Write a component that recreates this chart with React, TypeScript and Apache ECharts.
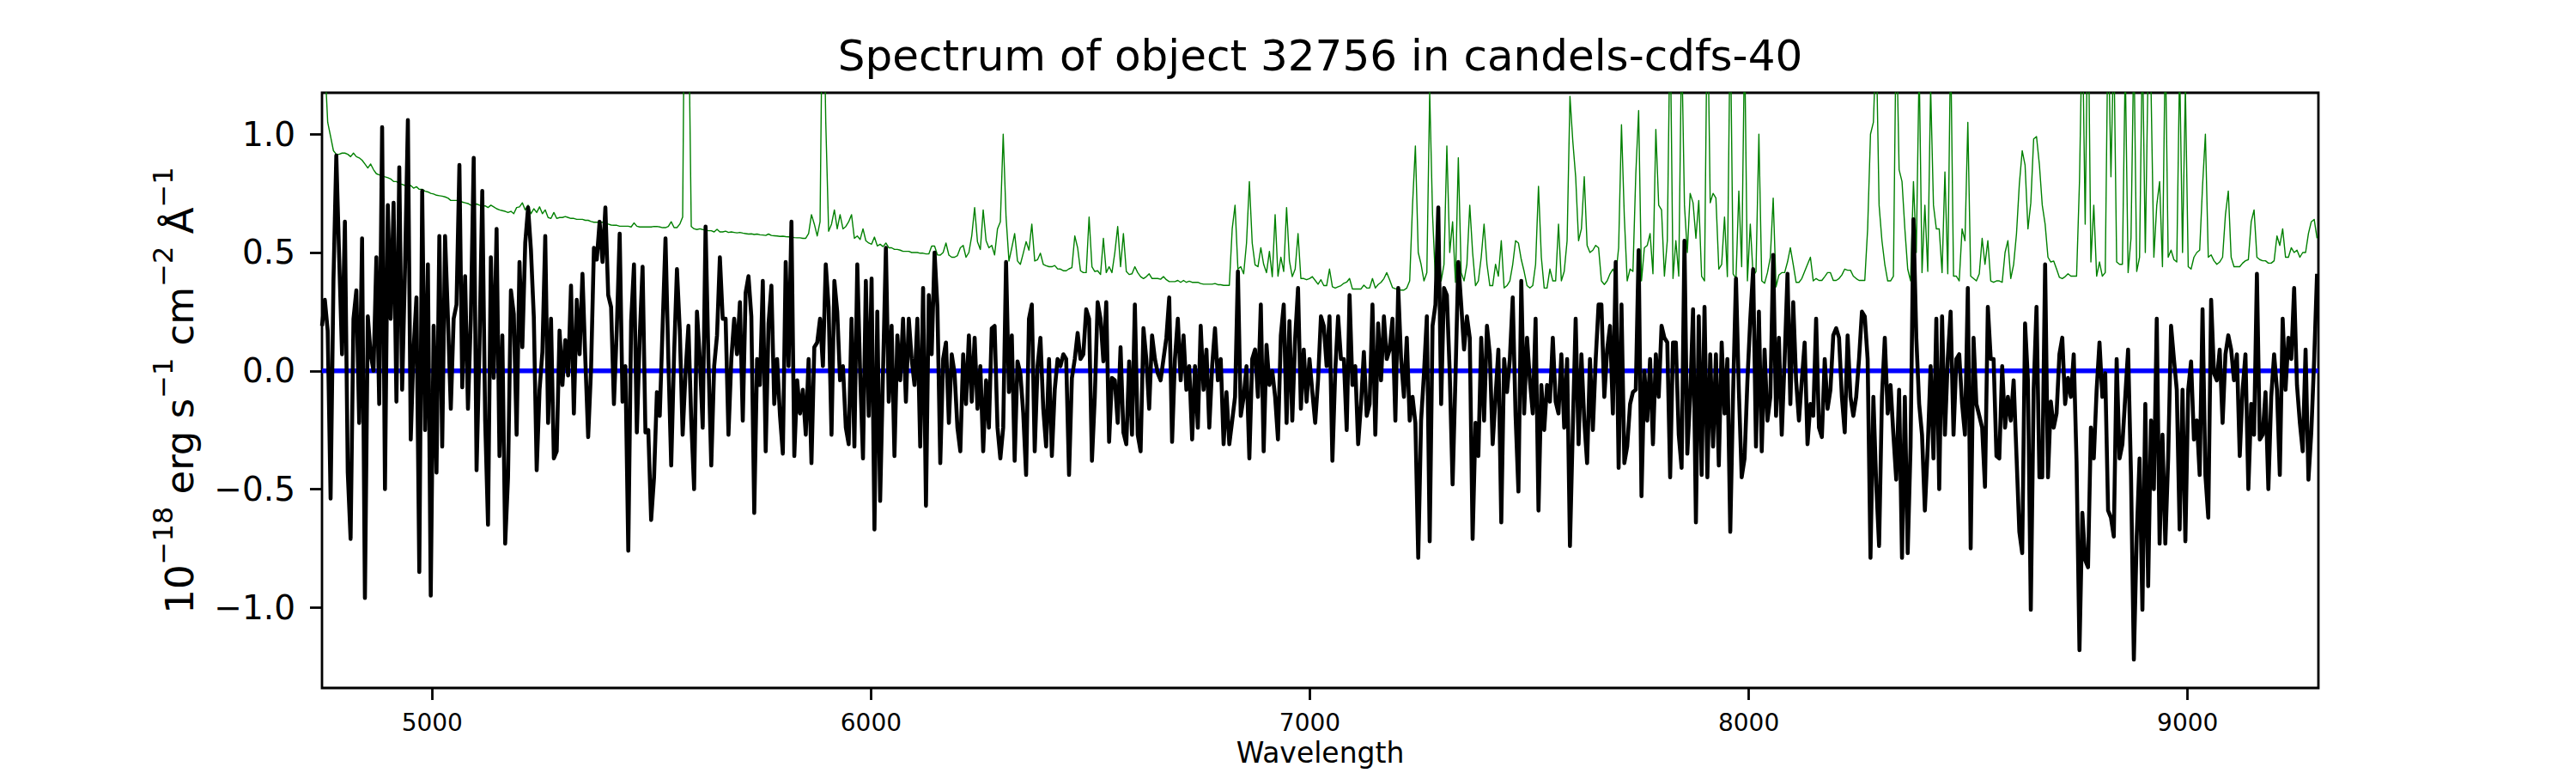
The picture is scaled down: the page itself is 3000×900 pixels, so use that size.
import React, { useEffect, useRef } from "react";
import * as echarts from "echarts";

const TITLE = "Spectrum of object 32756 in candels-cdfs-40";
const X_LABEL = "Wavelength";
const X_MIN = 4749;
const X_MAX = 9298;
const Y_MIN = -1.34;
const Y_MAX = 1.175;
const X_TICKS = [5000, 6000, 7000, 8000, 9000];
const Y_TICKS = [-1.0, -0.5, 0.0, 0.5, 1.0];
const ZERO_LEVEL = 0;

// wavelength of the first sample of each segment, and sample spacing (Angstrom)
const SEG_START = [4749.0, 5505.6, 6268.6, 7031.7, 7794.8, 8557.9];
const STEP = 6.522;

// object flux (black)
const fluxA = [
  0.19, 0.30, 0.17, -0.54, 0.38, 0.91, 0.48, 0.07, 0.63, -0.43,
  -0.71, 0.22, 0.34, -0.22, 0.56, -0.96, 0.23, 0.07, 0.00, 0.48,
  -0.14, 1.03, -0.50, 0.70, 0.22, 0.71, -0.13, 0.86, -0.08, 0.43,
  1.06, -0.29, 0.09, 0.31, -0.85, 0.76, -0.25, 0.45, -0.95, 0.19,
  -0.43, 0.57, -0.32, 0.57, 0.22, -0.16, 0.22, 0.28, 0.87, -0.07,
  0.40, -0.16, 0.22, 0.90, -0.42, 0.09, 0.76, -0.21, -0.65, 0.48,
  -0.03, 0.60, -0.36, 0.15, -0.73, -0.45, 0.34, 0.24, -0.27, 0.46,
  0.10, 0.54, 0.69, 0.51, 0.23, -0.42, -0.08, 0.08, 0.57, -0.22,
  0.22, -0.37, -0.34, 0.17, -0.06, 0.13, -0.02, 0.36, -0.18, 0.30,
  0.07, 0.41, 0.05, -0.28, 0.01, 0.52, 0.47, 0.63, 0.46, 0.69,
  0.32, 0.27, -0.14, 0.18, 0.58, -0.13, 0.02, -0.76, 0.21, 0.45,
  -0.26, 0.14, 0.44, -0.26, -0.25, -0.63,
];
const fluxB = [
  -0.45, -0.09, -0.19, 0.19, 0.56, 0.05, -0.40, 0.07, 0.43, 0.17,
  -0.27, -0.01, 0.19, -0.21, -0.50, 0.25, 0.05, -0.24, 0.61, 0.05,
  -0.40, 0.02, 0.15, 0.48, 0.22, 0.22, -0.27, 0.05, 0.22, 0.07,
  0.29, -0.21, 0.33, 0.40, 0.23, -0.60, 0.05, -0.06, 0.38, -0.34,
  0.20, 0.36, -0.14, 0.05, -0.19, -0.35, 0.46, 0.02, 0.63, -0.36,
  -0.04, -0.18, -0.08, -0.27, 0.05, -0.39, 0.10, 0.12, 0.22, 0.02,
  0.45, 0.27, -0.27, 0.38, 0.25, -0.04, 0.02, -0.24, -0.31, 0.22,
  -0.32, 0.45, -0.01, -0.37, 0.38, -0.19, 0.39, -0.67, 0.25, -0.55,
  0.00, 0.52, -0.13, 0.19, -0.36, 0.15, -0.04, 0.22, -0.13, 0.22,
  0.05, -0.06, 0.22, -0.32, 0.35, -0.57, 0.32, 0.07, 0.50, 0.27,
  -0.39, 0.05, 0.12, -0.22, 0.07, -0.01, -0.24, -0.34, 0.07, -0.14,
  0.15, -0.13, 0.14, -0.16, 0.02, -0.34, -0.04,
];
const fluxC = [
  -0.24, 0.18, 0.19, -0.24, -0.37, -0.24, 0.46, -0.09, 0.15, -0.38,
  0.04, -0.01, -0.18, -0.44, 0.22, 0.28, -0.34, 0.02, 0.14, -0.16,
  -0.32, 0.05, -0.36, -0.08, 0.05, 0.02, 0.07, 0.05, -0.44, -0.03,
  0.05, 0.16, 0.05, 0.07, 0.26, 0.22, -0.38, -0.11, 0.29, 0.22,
  0.04, 0.29, -0.30, -0.03, -0.04, -0.22, 0.10, -0.26, -0.31, 0.04,
  -0.27, 0.28, -0.27, -0.34, 0.18, 0.05, -0.16, 0.15, 0.05, -0.01,
  -0.04, 0.05, 0.14, 0.31, -0.30, 0.05, 0.22, -0.04, 0.15, -0.08,
  0.02, -0.29, 0.02, -0.24, 0.19, -0.08, 0.09, -0.24, 0.02, 0.18,
  -0.04, 0.05, -0.31, -0.09, -0.31, -0.21, -0.11, 0.42, -0.19, -0.11,
  0.02, -0.37, 0.05, 0.09, -0.11, 0.28, -0.34, 0.11, -0.06, 0.00,
  -0.11, -0.29, 0.15, 0.28, -0.22, 0.21, -0.21, 0.14, 0.35, -0.16,
  0.09, -0.13, 0.05, -0.09, -0.22, -0.04, 0.23,
];
const fluxD = [
  0.19, 0.02, 0.23, -0.38, 0.00, 0.23, 0.05, 0.05, -0.25, 0.32,
  -0.06, 0.02, -0.31, -0.14, 0.08, -0.19, -0.14, 0.28, -0.27, 0.20,
  -0.04, 0.23, 0.05, 0.09, 0.22, -0.21, 0.35, 0.05, -0.11, 0.14,
  -0.21, -0.11, -0.22, -0.79, -0.21, -0.01, 0.23, -0.72, 0.19, 0.28,
  0.69, -0.14, 0.35, 0.32, -0.01, -0.48, -0.03, 0.46, 0.28, 0.09,
  0.23, 0.14, -0.71, -0.22, -0.36, 0.14, -0.21, 0.19, 0.07, -0.31,
  -0.11, 0.09, -0.64, 0.05, -0.09, 0.05, 0.31, -0.19, -0.51, 0.38,
  -0.18, 0.14, -0.04, -0.18, 0.22, -0.59, -0.06, -0.25, -0.06, -0.13,
  0.14, -0.13, -0.18, 0.07, -0.24, 0.05, -0.74, -0.24, 0.22, -0.31,
  0.07, -0.21, -0.39, 0.05, -0.25, 0.05, 0.28, 0.28, -0.11, 0.09,
  0.19, -0.18, 0.46, -0.41, 0.28, -0.39, -0.32, -0.14, -0.09, -0.08,
  0.51, -0.53, 0.00, -0.21, 0.05, -0.31, 0.07,
];
const fluxE = [
  -0.11, 0.19, 0.14, 0.12, -0.45, 0.12, 0.12, -0.27, -0.41, 0.55,
  -0.35, -0.11, 0.26, -0.64, 0.23, -0.44, 0.27, -0.45, 0.07, -0.32,
  0.07, -0.40, 0.12, -0.18, 0.05, -0.68, -0.09, 0.39, -0.08, -0.45,
  -0.37, -0.04, 0.22, 0.43, -0.32, 0.25, -0.34, 0.09, -0.21, -0.11,
  0.49, -0.19, 0.14, -0.27, 0.05, 0.41, -0.14, 0.29, -0.04, -0.21,
  -0.04, 0.12, -0.31, -0.14, -0.19, 0.22, -0.24, -0.28, 0.05, -0.16,
  -0.08, 0.15, 0.18, 0.14, -0.11, -0.26, 0.15, -0.11, -0.19, -0.11,
  0.05, 0.25, 0.23, 0.05, -0.79, -0.11, -0.48, -0.74, -0.11, 0.14,
  -0.18, -0.06, -0.27, -0.46, -0.08, -0.79, -0.11, -0.77, -0.32, 0.64,
  0.14, -0.14, -0.27, -0.59, -0.32, 0.02, -0.37, 0.22, -0.50, 0.23,
  -0.27, 0.05, 0.25, -0.27, 0.05, 0.07, -0.14, -0.27, 0.35, -0.75,
  0.14, -0.14, -0.19, -0.24, -0.49, 0.27, 0.05,
];
const fluxF = [
  0.05, -0.36, -0.37, 0.02, -0.24, -0.11, -0.21, -0.04, -0.36, -0.68,
  -0.77, 0.20, -0.04, -1.01, -0.08, 0.27, -0.45, -0.45, 0.45, -0.45,
  -0.13, -0.24, -0.18, 0.07, 0.14, -0.14, -0.03, -0.11, 0.07, -0.39,
  -1.18, -0.60, -0.80, -0.83, -0.24, -0.37, -0.08, 0.12, -0.11, -0.01,
  -0.59, -0.62, -0.70, 0.05, -0.37, -0.31, -0.11, 0.09, -0.44, -1.22,
  -0.70, -0.37, -1.01, -0.14, -0.91, -0.21, -0.50, 0.22, -0.73, -0.27,
  -0.73, -0.37, 0.19, 0.05, -0.08, -0.67, -0.08, -0.72, -0.08, 0.04,
  -0.29, -0.21, -0.44, 0.26, -0.44, -0.62, 0.30, -0.01, -0.04, 0.09,
  -0.22, 0.07, 0.15, 0.09, -0.04, 0.07, -0.36, -0.08, 0.07, -0.50,
  -0.14, -0.27, 0.41, -0.29, -0.27, -0.09, -0.50, -0.11, 0.07, -0.08,
  -0.44, 0.22, -0.08, 0.14, 0.05, 0.35, -0.06, -0.22, -0.34, 0.09,
  -0.46, -0.26, 0.05, 0.41,
];

// noise / sky spectrum (green)
const skyA = [
  1.60, 1.30, 1.05, 0.99, 0.93, 0.915, 0.915, 0.92, 0.92, 0.915,
  0.905, 0.92, 0.905, 0.90, 0.89, 0.874, 0.857, 0.874, 0.85, 0.833,
  0.828, 0.825, 0.82, 0.816, 0.811, 0.80, 0.80, 0.79, 0.788, 0.783,
  0.78, 0.783, 0.772, 0.778, 0.767, 0.767, 0.759, 0.756, 0.75, 0.747,
  0.742, 0.74, 0.738, 0.735, 0.73, 0.72, 0.72, 0.72, 0.72, 0.713,
  0.71, 0.707, 0.70, 0.70, 0.705, 0.70, 0.697, 0.697, 0.69, 0.70,
  0.693, 0.685, 0.68, 0.677, 0.674, 0.669, 0.674, 0.664, 0.69, 0.693,
  0.71, 0.68, 0.70, 0.664, 0.685, 0.669, 0.693, 0.664, 0.68, 0.648,
  0.644, 0.669, 0.644, 0.648, 0.648, 0.652, 0.648, 0.644, 0.644, 0.64,
  0.64, 0.64, 0.636, 0.636, 0.631, 0.628, 0.628, 0.628, 0.628, 0.625,
  0.62, 0.616, 0.615, 0.615, 0.611, 0.611, 0.611, 0.611, 0.608, 0.625,
  0.611, 0.608, 0.608, 0.608, 0.608, 0.608,
];
const skyB = [
  0.61, 0.61, 0.608, 0.605, 0.605, 0.61, 0.63, 0.605, 0.605, 0.62,
  0.65, 2.2, 1.6, 0.61, 0.60, 0.597, 0.60, 0.597, 0.595, 0.592,
  0.592, 0.587, 0.598, 0.587, 0.587, 0.59, 0.585, 0.587, 0.585, 0.583,
  0.585, 0.582, 0.58, 0.578, 0.579, 0.576, 0.578, 0.575, 0.574, 0.572,
  0.578, 0.572, 0.571, 0.570, 0.568, 0.569, 0.567, 0.566, 0.565, 0.563,
  0.562, 0.562, 0.560, 0.560, 0.58, 0.66, 0.62, 0.57, 0.63, 1.8,
  1.05, 0.59, 0.62, 0.68, 0.60, 0.66, 0.60, 0.61, 0.63, 0.66,
  0.56, 0.57, 0.555, 0.60, 0.55, 0.54, 0.535, 0.565, 0.528, 0.535,
  0.525, 0.54, 0.52, 0.52, 0.513, 0.513, 0.51, 0.505, 0.505, 0.505,
  0.50, 0.50, 0.50, 0.497, 0.497, 0.494, 0.494, 0.527, 0.527, 0.49,
  0.489, 0.50, 0.54, 0.489, 0.48, 0.48, 0.487, 0.52, 0.53, 0.48,
  0.50, 0.57, 0.69, 0.545, 0.513, 0.68, 0.55,
];
const skyC = [
  0.52, 0.53, 0.49, 0.60, 0.63, 1.00, 0.65, 0.464, 0.52, 0.58,
  0.464, 0.45, 0.497, 0.546, 0.51, 0.62, 0.464, 0.47, 0.497, 0.45,
  0.444, 0.44, 0.44, 0.445, 0.431, 0.43, 0.423, 0.423, 0.431, 0.436,
  0.57, 0.52, 0.423, 0.415, 0.415, 0.65, 0.44, 0.42, 0.423, 0.407,
  0.56, 0.415, 0.44, 0.415, 0.50, 0.61, 0.44, 0.58, 0.42, 0.407,
  0.41, 0.44, 0.415, 0.398, 0.39, 0.398, 0.41, 0.39, 0.39, 0.39,
  0.387, 0.398, 0.385, 0.377, 0.377, 0.377, 0.382, 0.374, 0.382, 0.374,
  0.379, 0.374, 0.374, 0.374, 0.369, 0.366, 0.366, 0.366, 0.366, 0.369,
  0.364, 0.364, 0.361, 0.361, 0.361, 0.60, 0.70, 0.43, 0.44, 0.41,
  0.54, 0.80, 0.54, 0.448, 0.44, 0.52, 0.45, 0.415, 0.505, 0.398,
  0.66, 0.40, 0.48, 0.42, 0.69, 0.464, 0.398, 0.43, 0.58, 0.39,
  0.39, 0.385, 0.39, 0.398, 0.382, 0.366, 0.385,
];
const skyD = [
  0.36, 0.36, 0.43, 0.355, 0.35, 0.355, 0.36, 0.37, 0.375, 0.39,
  0.346, 0.346, 0.346, 0.346, 0.362, 0.35, 0.35, 0.39, 0.35, 0.365,
  0.374, 0.39, 0.415, 0.385, 0.352, 0.347, 0.345, 0.341, 0.341, 0.35,
  0.38, 0.70, 0.95, 0.50, 0.45, 0.38, 0.415, 1.18, 0.66, 0.38,
  0.58, 0.38, 0.45, 0.95, 0.50, 0.63, 0.374, 0.90, 0.415, 0.38,
  0.45, 0.70, 0.50, 0.36, 0.38, 0.48, 0.62, 0.45, 0.36, 0.36,
  0.45, 0.40, 0.55, 0.35, 0.36, 0.38, 0.45, 0.55, 0.54, 0.47,
  0.42, 0.36, 0.35, 0.36, 0.45, 0.78, 0.48, 0.35, 0.35, 0.43,
  0.38, 0.38, 0.62, 0.38, 0.42, 0.55, 1.16, 0.97, 0.82, 0.55,
  0.60, 0.82, 0.53, 0.50, 0.51, 0.53, 0.52, 0.38, 0.365, 0.38,
  0.41, 0.43, 0.40, 0.52, 1.04, 0.65, 0.38, 0.43, 0.42, 0.83,
  1.1, 0.38, 0.52, 0.53, 0.58, 0.41, 1.02,
];
const skyE = [
  0.70, 0.68, 0.40, 0.55, 1.5, 0.39, 0.55, 0.40, 1.4, 0.70,
  0.50, 0.75, 0.71, 0.56, 0.72, 0.40, 0.38, 1.6, 0.71, 0.75,
  0.73, 0.43, 0.45, 0.65, 0.398, 1.5, 0.41, 0.39, 0.76, 0.44,
  1.4, 0.38, 0.62, 0.40, 0.42, 1.0, 0.38, 0.37, 0.415, 0.48,
  0.73, 0.355, 0.405, 0.415, 0.415, 0.46, 0.52, 0.45, 0.374, 0.374,
  0.39, 0.42, 0.45, 0.48, 0.38, 0.39, 0.382, 0.382, 0.398, 0.415,
  0.415, 0.382, 0.382, 0.39, 0.405, 0.43, 0.425, 0.425, 0.40, 0.39,
  0.382, 0.382, 0.382, 0.60, 1.0, 1.05, 1.4, 0.70, 0.55, 0.45,
  0.38, 0.38, 0.40, 1.5, 0.85, 0.80, 0.60, 0.43, 0.38, 0.80,
  0.50, 1.3, 0.415, 0.70, 0.42, 1.2, 0.70, 0.60, 0.60, 0.415,
  0.84, 0.41, 1.4, 0.40, 0.40, 0.38, 0.60, 0.55, 1.05, 0.40,
  0.39, 0.38, 0.41, 0.56, 0.45, 0.55, 0.38,
];
const skyF = [
  0.374, 0.38, 0.38, 0.374, 0.50, 0.55, 0.39, 0.45, 0.58, 0.79,
  0.93, 0.87, 0.60, 0.71, 0.98, 0.99, 0.87, 0.70, 0.62, 0.48,
  0.46, 0.464, 0.43, 0.395, 0.39, 0.398, 0.41, 0.40, 0.40, 0.40,
  0.80, 1.5, 0.62, 1.6, 0.46, 0.70, 0.40, 0.46, 0.40, 0.415,
  1.5, 0.82, 1.4, 0.46, 0.45, 0.45, 1.3, 0.415, 0.56, 1.4,
  0.42, 0.48, 1.4, 0.50, 1.3, 1.2, 0.48, 0.70, 0.80, 0.44,
  1.4, 0.48, 0.51, 0.47, 0.46, 1.3, 0.50, 1.2, 0.44, 0.43,
  0.48, 0.50, 0.51, 0.78, 1.0, 0.48, 0.49, 0.465, 0.45, 0.46,
  0.48, 0.66, 0.76, 0.48, 0.44, 0.44, 0.44, 0.455, 0.465, 0.47,
  0.63, 0.68, 0.48, 0.47, 0.465, 0.465, 0.455, 0.455, 0.465, 0.57,
  0.53, 0.60, 0.48, 0.48, 0.52, 0.50, 0.51, 0.48, 0.50, 0.50,
  0.58, 0.63, 0.64, 0.56,
];

const FONT = "DejaVu Sans";

function buildSeries(segs: number[][]): [number, number][] {
  const out: [number, number][] = [];
  segs.forEach((seg, k) => {
    seg.forEach((v, i) => {
      out.push([Math.round((SEG_START[k] + i * STEP) * 10) / 10, v]);
    });
  });
  return out;
}

export default function App() {
  const ref = useRef<HTMLDivElement>(null);

  useEffect(() => {
    document.body.style.margin = "0";
    if (!ref.current) return;
    const chart = echarts.init(ref.current, null, { renderer: "svg" });

    const fluxData = buildSeries([fluxA, fluxB, fluxC, fluxD, fluxE, fluxF]);
    const skyData = buildSeries([skyA, skyB, skyC, skyD, skyE, skyF]);
    const zeroData = [
      [X_MIN, ZERO_LEVEL],
      [X_MAX, ZERO_LEVEL],
    ];

    const gridLeft = 375;
    const gridTop = 108;
    const gridWidth = 2325;
    const gridHeight = 693;

    chart.setOption({
      animation: false,
      backgroundColor: "#ffffff",
      textStyle: { fontFamily: FONT },
      grid: {
        left: gridLeft,
        top: gridTop,
        width: gridWidth,
        height: gridHeight,
        show: true,
        borderColor: "#000000",
        borderWidth: 2.8,
        backgroundColor: "transparent",
        containLabel: false,
      },
      graphic: [
        {
          type: "text",
          x: gridLeft + gridWidth / 2,
          y: 65,
          style: {
            text: TITLE,
            fontSize: 50,
            fontFamily: FONT,
            fill: "#000000",
            align: "center",
            verticalAlign: "middle",
          },
        },
        {
          type: "text",
          x: gridLeft + gridWidth / 2,
          y: 876,
          style: {
            text: X_LABEL,
            fontSize: 33,
            fontFamily: FONT,
            fill: "#000000",
            align: "center",
            verticalAlign: "middle",
          },
        },
      ],
      xAxis: {
        type: "value",
        min: X_MIN,
        max: X_MAX,
        position: "bottom",
        axisLine: { show: false, onZero: false },
        splitLine: { show: false },
        axisTick: {
          show: true,
          customValues: X_TICKS,
          length: 14,
          inside: false,
          lineStyle: { color: "#000000", width: 2.8 },
        },
        axisLabel: {
          show: true,
          customValues: X_TICKS,
          fontSize: 28,
          fontFamily: FONT,
          color: "#000000",
          margin: 26,
          formatter: (v: number) => String(v),
        },
      },
      yAxis: {
        type: "value",
        min: Y_MIN,
        max: Y_MAX,
        position: "left",
        axisLine: { show: false, onZero: false },
        splitLine: { show: false },
        axisTick: {
          show: true,
          customValues: Y_TICKS,
          length: 14,
          inside: false,
          lineStyle: { color: "#000000", width: 2.8 },
        },
        axisLabel: {
          show: true,
          customValues: Y_TICKS,
          fontSize: 39,
          fontFamily: FONT,
          color: "#000000",
          margin: 31,
          formatter: (v: number) => v.toFixed(1).replace("-", "\u2212"),
        },
        name: "{b|10}{s|\u221218}{b| erg s}{s|\u22121}{b| cm}{s|\u22122}{b| \u00c5}{s|\u22121}",
        nameLocation: "middle",
        nameRotate: 90,
        nameGap: 143,
        nameTextStyle: {
          color: "#000000",
          fontFamily: FONT,
          fontSize: 45,
          rich: {
            b: {
              fontSize: 45,
              lineHeight: 58,
              verticalAlign: "bottom",
              fontFamily: FONT,
              color: "#000000",
            },
            s: {
              fontSize: 32,
              lineHeight: 32,
              verticalAlign: "top",
              fontFamily: FONT,
              color: "#000000",
            },
          },
        },
      },
      series: [
        {
          name: "noise",
          type: "line",
          data: skyData,
          showSymbol: false,
          symbol: "none",
          clip: true,
          lineStyle: { color: "#008000", width: 1.4, join: "round" },
          z: 2,
        },
        {
          name: "zero",
          type: "line",
          data: zeroData,
          showSymbol: false,
          symbol: "none",
          clip: true,
          lineStyle: { color: "#0000ff", width: 5.5 },
          z: 3,
        },
        {
          name: "flux",
          type: "line",
          data: fluxData,
          showSymbol: false,
          symbol: "none",
          clip: true,
          lineStyle: { color: "#000000", width: 4.6, join: "round" },
          z: 4,
        },
      ],
    });

    return () => {
      chart.dispose();
    };
  }, []);

  return <div ref={ref} style={{ width: 3000, height: 900 }} />;
}
